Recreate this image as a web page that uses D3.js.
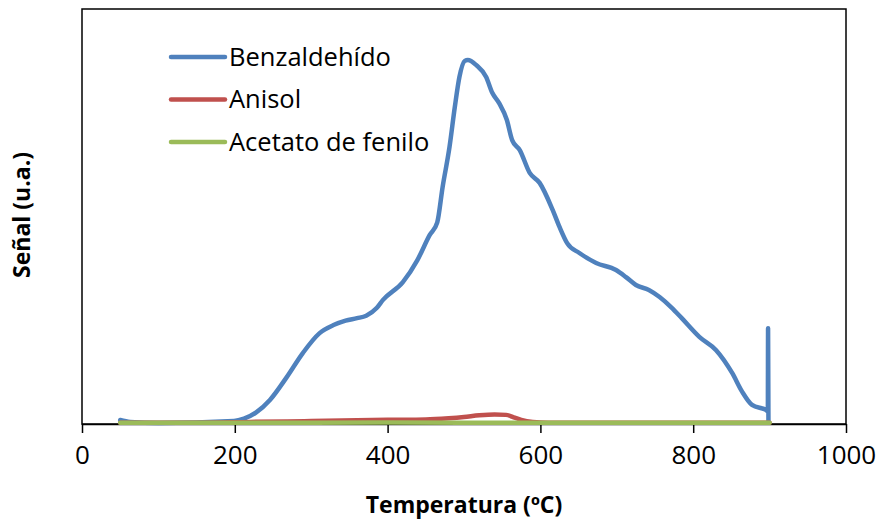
<!doctype html>
<html lang="es">
<head>
    <meta charset="UTF-8">
    <script src="https://cdnjs.cloudflare.com/ajax/libs/d3/7.0.0/d3.min.js"></script>
    <title>Señal vs Temperatura</title>
    <style>
        body { margin: 0; background: #fff; }
        text { font-family: "Open Sans", sans-serif; }
    </style>
</head>
<body>

<div id="Area"></div>

<script>

    // x ticks
    const xTicks = [0, 200, 400, 600, 800, 1000];

    // Benzaldehído (temperature ºC, signal u.a.)
    const benzT = [50, 63, 100, 199, 212, 228, 246, 268, 289, 311, 330, 345, 360, 372, 386, 394, 420, 439,
        455, 465, 472, 481, 488, 494, 501, 505, 516, 529, 537, 546, 556, 563, 573, 586, 599,
        616, 625, 635, 651, 673, 699, 712, 725, 742, 756, 772, 785, 808, 830, 851, 864, 877, 895,
        897.7, 898, 898.5];
    const benzV = [0.96, 0.5, 0.24, 0.72, 1.3, 2.8, 5.8, 11.3, 17.1, 21.9, 23.9, 24.9, 25.5, 26.1, 28.0, 29.9, 34.2, 39.5,
        45.5, 48.6, 57.1, 66.7, 76.4, 83.6, 87.5, 87.7, 86.5, 83.6, 79.8, 77.3, 73.3, 68.4, 66.0, 60.5, 58.1,
        51.6, 47.5, 43.6, 41.2, 38.8, 37.1, 35.4, 33.5, 32.3, 30.6, 28.0, 25.5, 21.0, 17.8, 12.3, 7.8, 4.6, 3.4,
        3.1, 23.1, 0.7];

    // Anisol
    const aniT = [50, 150, 220, 300, 400, 450, 480, 500, 520, 540, 555, 565, 575, 590, 610, 700, 800, 900];
    const aniV = [0.3, 0.3, 0.5, 0.7, 1.0, 1.1, 1.4, 1.7, 2.1, 2.3, 2.2, 1.6, 1.0, 0.5, 0.3, 0.3, 0.3, 0.3];

    // Acetato de fenilo
    const acetT = [50, 200, 400, 600, 800, 900];
    const acetV = [0.3, 0.3, 0.35, 0.3, 0.3, 0.3];

    const series = [
        {name: "Benzaldehído", color: "#4F81BD", t: benzT, v: benzV},
        {name: "Anisol", color: "#C0504D", t: aniT, v: aniV},
        {name: "Acetato de fenilo", color: "#9BBB59", t: acetT, v: acetV}
    ];

    const margin = {top: 9, right: 33, bottom: 101, left: 82},
        width = 879 - margin.left - margin.right,
        height = 525 - margin.top - margin.bottom;

    const svg = d3.select("#Area")
        .append("svg")
        .attr("width", 879)
        .attr("height", 525)
        .append("g")
        .attr("transform", "translate(" + margin.left + "," + margin.top + ")");

    const x = d3.scaleLinear().domain([0, 1000]).range([0, width]);
    const y = d3.scaleLinear().domain([0, 100]).range([height, 0]);

    // plot frame
    svg.append("rect")
        .attr("x", 0).attr("y", 0)
        .attr("width", width).attr("height", height)
        .attr("fill", "none")
        .attr("stroke", "black")
        .attr("stroke-width", 1.5);

    // x axis
    const xAxis = svg.append("g")
        .attr("transform", "translate(0," + height + ")")
        .call(d3.axisBottom(x).tickValues(xTicks).tickFormat(d3.format("d"))
            .tickSize(9).tickSizeOuter(0).tickPadding(13));
    xAxis.select(".domain").attr("stroke", "black").attr("stroke-width", 1.5);
    xAxis.selectAll(".tick line").attr("stroke", "black").attr("stroke-width", 1.5);
    xAxis.selectAll("text")
        .attr("font-size", 26)
        .attr("font-family", "Open Sans")
        .attr("fill", "black");

    // lines
    const line = d3.line()
        .curve(d3.curveMonotoneX)
        .x(d => x(d[0]))
        .y(d => y(d[1]));

    series.forEach(s => {
        svg.append("path")
            .datum(s.t.map((t, i) => [t, s.v[i]]))
            .attr("d", line)
            .attr("fill", "none")
            .attr("stroke", s.color)
            .attr("stroke-width", 4.5)
            .attr("stroke-linejoin", "round")
            .attr("stroke-linecap", "round");
    });

    // legend
    const legend = svg.append("g")
        .attr("transform", "translate(" + (171 - margin.left) + "," + (57 - margin.top) + ")");
    series.forEach((s, i) => {
        const g = legend.append("g").attr("transform", "translate(0," + (i * 42.5) + ")");
        g.append("line")
            .attr("x1", 0).attr("x2", 54)
            .attr("stroke", s.color)
            .attr("stroke-width", 4.5)
            .attr("stroke-linecap", "round");
        g.append("text")
            .attr("x", 58)
            .attr("dy", "0.35em")
            .attr("font-size", 25.5)
            .text(s.name);
    });

    // axis titles
    svg.append("text")
        .attr("x", width / 2)
        .attr("y", 505 - margin.top)
        .attr("text-anchor", "middle")
        .attr("dy", "0.35em")
        .attr("font-size", 23)
        .attr("font-weight", "bold")
        .text("Temperatura (ºC)");

    svg.append("text")
        .attr("transform", "translate(" + (22 - margin.left) + "," + (215 - margin.top) + ") rotate(-90)")
        .attr("text-anchor", "middle")
        .attr("dy", "0.35em")
        .attr("font-size", 23)
        .attr("font-weight", "bold")
        .text("Señal (u.a.)");

</script>
</body>
</html>
